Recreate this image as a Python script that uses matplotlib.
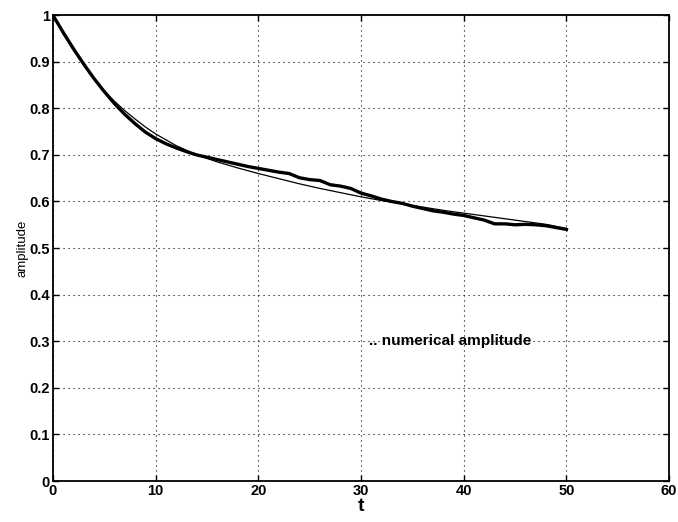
import matplotlib
matplotlib.use("Agg")
import matplotlib.pyplot as plt

plt.rcParams['font.family'] = ['Liberation Sans', 'DejaVu Sans']

# numerical amplitude (thick line)
t_num = list(range(0, 51))
amp_num = [1.0, 0.963, 0.928, 0.895, 0.864, 0.836, 0.81, 0.787, 0.767, 0.749,
           0.735, 0.724, 0.715, 0.707, 0.70, 0.695, 0.69, 0.685, 0.68, 0.675,
           0.671, 0.667, 0.663, 0.66, 0.651, 0.647, 0.645, 0.636, 0.633, 0.628,
           0.618, 0.612, 0.605, 0.60, 0.596, 0.59, 0.585, 0.58, 0.577, 0.573,
           0.57, 0.565, 0.56, 0.552, 0.552, 0.55, 0.551, 0.55, 0.548, 0.544,
           0.54]

# fitted amplitude (thin line)
t_fit = [0, 1, 2, 3, 4, 5, 6, 7, 8, 9, 10, 12, 14, 16, 18, 20, 22, 24, 26, 28,
         30, 32, 34, 36, 38, 40, 42, 44, 46, 48, 50]
amp_fit = [1.0, 0.96, 0.925, 0.893, 0.863, 0.837, 0.815, 0.795, 0.777, 0.76,
           0.745, 0.72, 0.70, 0.685, 0.672, 0.66, 0.649, 0.638, 0.628, 0.619,
           0.61, 0.602, 0.595, 0.588, 0.581, 0.575, 0.569, 0.563, 0.557, 0.551,
           0.542]

xticks = [0, 10, 20, 30, 40, 50, 60]
yticks = [0, 0.1, 0.2, 0.3, 0.4, 0.5, 0.6, 0.7, 0.8, 0.9, 1]
ytick_labels = ['0', '0.1', '0.2', '0.3', '0.4', '0.5', '0.6', '0.7', '0.8', '0.9', '1']

fig = plt.figure(figsize=(6.78, 5.22), dpi=100)
ax = fig.add_axes([0.078, 0.0785, 0.909, 0.8925])

ax.plot(t_fit, amp_fit, color='black', linewidth=0.9)
ax.plot(t_num, amp_num, color='black', linewidth=2.4)

ax.set_xlim(0, 60)
ax.set_ylim(0, 1)
ax.set_xticks(xticks)
ax.set_yticks(yticks)
ax.set_yticklabels(ytick_labels)
ax.tick_params(direction='in', top=True, right=True, length=4, width=1,
               labelsize=10.5, pad=2)
for lab in ax.get_xticklabels() + ax.get_yticklabels():
    lab.set_fontweight('bold')

ax.grid(True, color='black', linestyle=(0, (1, 3.5)), linewidth=0.8)
for s in ax.spines.values():
    s.set_linewidth(1.3)
    s.set_color('black')

ax.set_xlabel('t', fontsize=14, fontweight='bold', labelpad=0)
ax.set_ylabel('amplitude', fontsize=9.5, labelpad=1)

ax.text(30.8, 0.3, '.. numerical amplitude', fontsize=11, fontweight='bold',
        va='center', ha='left')

fig.savefig('out.png', dpi=100)
